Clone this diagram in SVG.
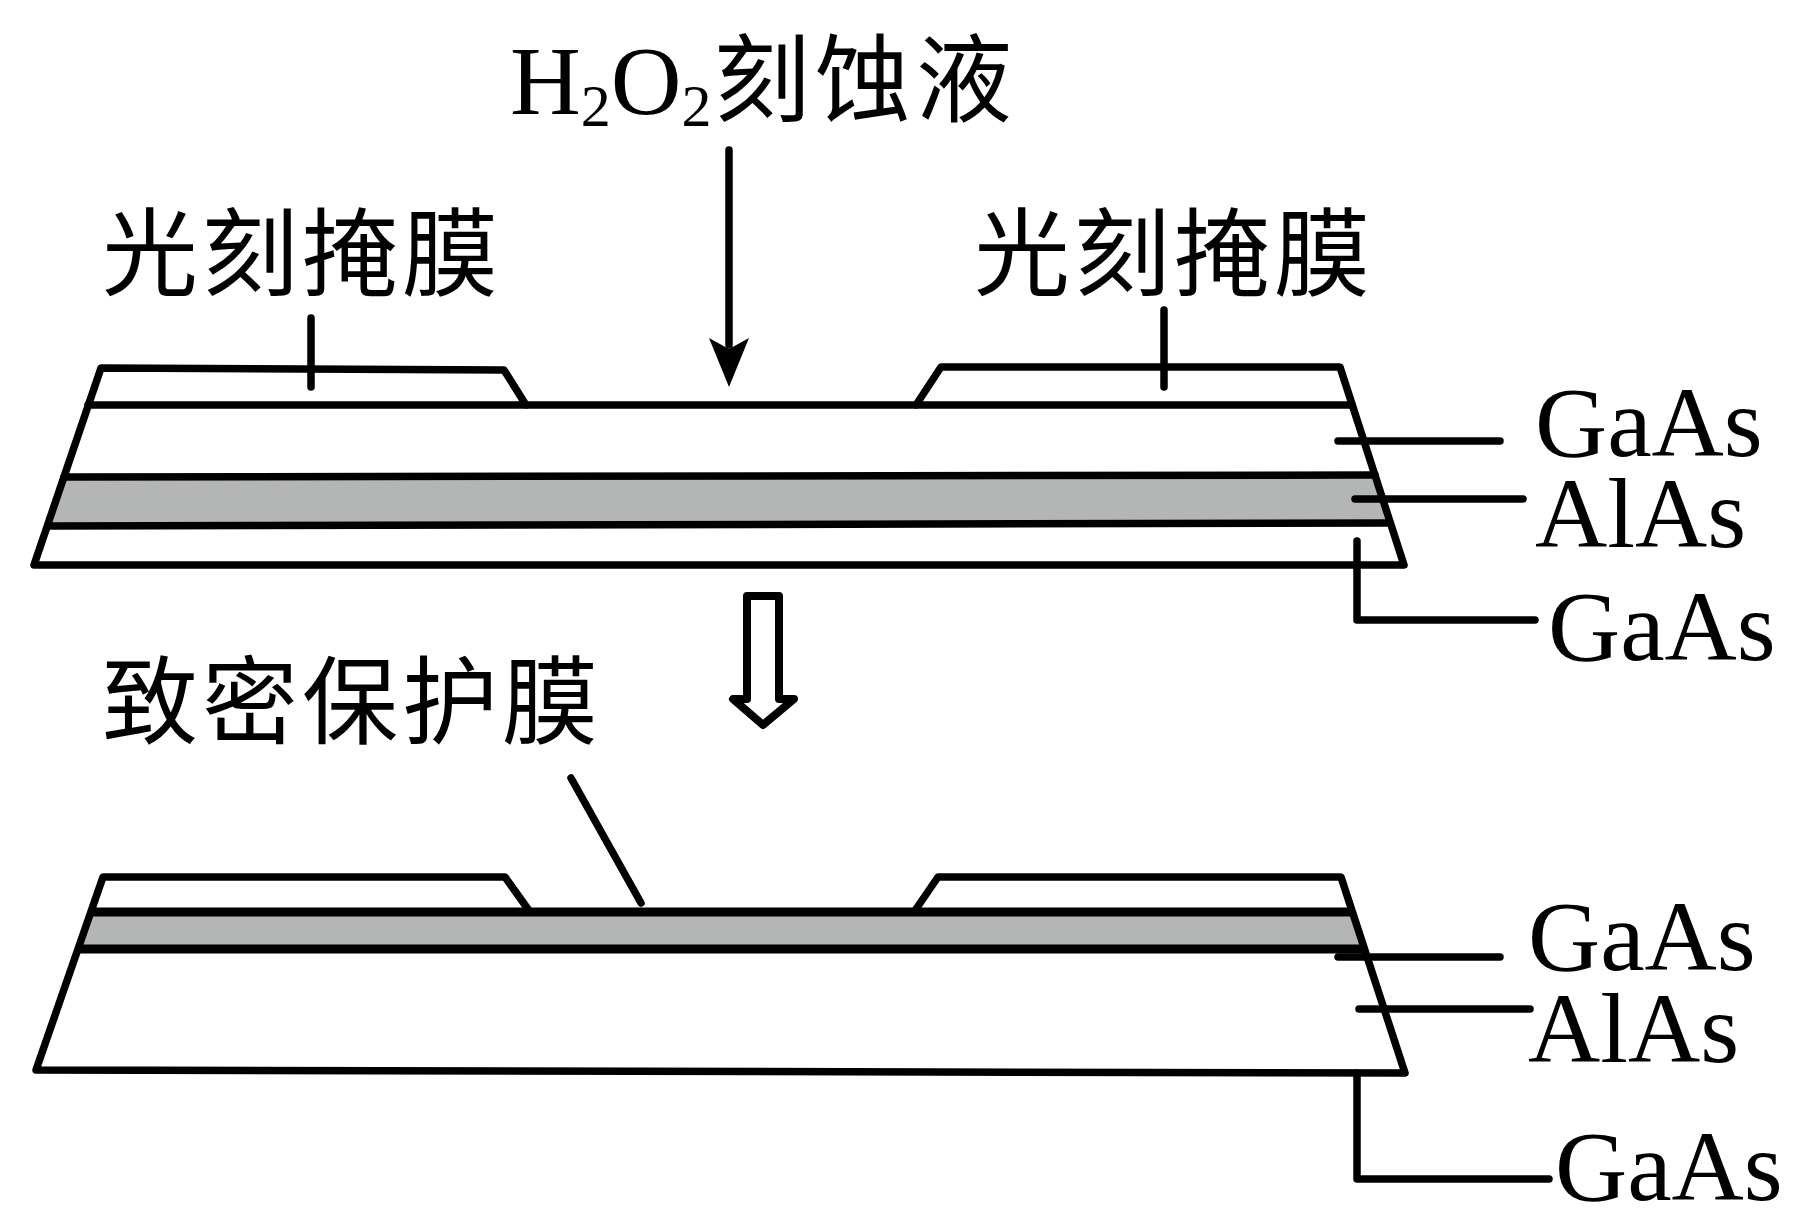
<svg xmlns="http://www.w3.org/2000/svg" width="1800" height="1230" viewBox="0 0 1800 1230">
<style>
.l{fill:none;stroke:#000;stroke-width:7.5;stroke-linecap:round;stroke-linejoin:round}
.t{stroke-width:9;stroke-linecap:butt}
.e{font-family:"Liberation Serif","Times New Roman",serif;fill:#000;font-size:100px}
.c{font-family:"Noto Sans CJK SC","Liberation Serif",serif;fill:#000;font-size:96px;font-weight:400}
</style>
<rect width="1800" height="1230" fill="#fff"/>
<g id="stack-top">
<polygon points="64,477 1375,475 1390,523 50,526" fill="#b4b6b5"/>
<path class="l" d="M34,565 L101,368 L504,370 L526,405 L916,405 L941,367 L1340,367 L1404,565 Z"/>
<path class="l" d="M88,405 H526 M916,405 H1352"/>
<path class="l" d="M64,477 L1375,475 M50,526 L1390,523"/>
</g>
<g id="stack-bottom">
<polygon points="91,912 1352,912 1364,949 78,949" fill="#b4b6b5"/>
<path class="l" d="M36,1070 L103,877 L505,877 L530,912 L914,912 L938,877 L1341,877 L1405,1073 Z"/>
<path class="l t" d="M91,912 H1352 M78,949 H1364"/>
</g>
<g id="connectors">
<path class="l" d="M729,150 V345"/>
<polygon points="709,338 729,349 749,338 729,387"/>
<path class="l" d="M311,318 V387 M1164,310 V387"/>
<path class="l" d="M1338,441 H1500 M1355,499 H1523 M1357,541 V620 H1535"/>
<path class="l" d="M571,778 L641,903"/>
<path class="l" d="M1338,957 H1500 M1359,1009 H1530 M1357,1073 V1179 H1549"/>
<path d="M747,596 H779 V699 H794 L763,725 L733,699 H747 Z" fill="#fff" stroke="#000" stroke-width="8" stroke-linejoin="round"/>
</g>
<g id="label-etchant"><text class="e" x="510" y="114" style="font-size:98px">H<tspan style="font-size:60px" dy="12">2</tspan><tspan dy="-12">O</tspan><tspan style="font-size:60px" dy="12">2</tspan></text><text class="c" x="714" y="114" textLength="298">刻蚀液</text></g>
<g id="label-mask-left"><text class="c" x="102" y="288" textLength="396">光刻掩膜</text></g>
<g id="label-mask-right"><text class="c" x="974" y="288" textLength="396">光刻掩膜</text></g>
<g id="label-protect"><text class="c" x="102" y="736" textLength="496">致密保护膜</text></g>
<g id="label-gaas-1"><text class="e" x="1535" y="456">GaAs</text></g>
<g id="label-alas-1"><text class="e" x="1535" y="547">AlAs</text></g>
<g id="label-gaas-2"><text class="e" x="1548" y="660">GaAs</text></g>
<g id="label-gaas-3"><text class="e" x="1528" y="970">GaAs</text></g>
<g id="label-alas-2"><text class="e" x="1528" y="1062">AlAs</text></g>
<g id="label-gaas-4"><text class="e" x="1555" y="1200">GaAs</text></g>
</svg>
